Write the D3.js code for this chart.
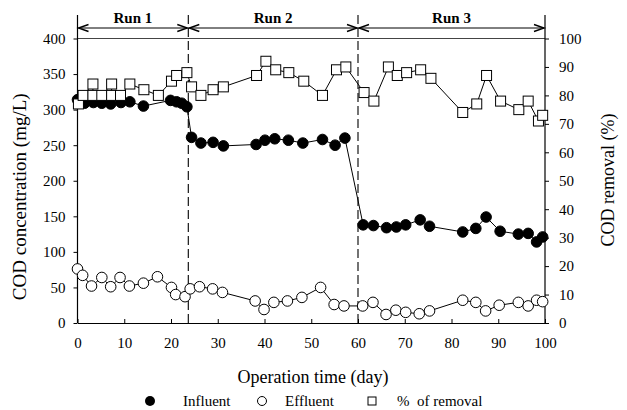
<!DOCTYPE html>
<html>
<head>
<meta charset="utf-8">
<script src="https://cdn.jsdelivr.net/npm/d3@7.9.0/dist/d3.min.js"></script>
<style>
  body { margin: 0; background: #fff; }
  svg { display: block; }
  svg text { font-family: "Liberation Serif", "DejaVu Serif", serif; }
</style>
</head>
<body>
<svg id="chart" width="627" height="410"></svg>
<script>
// influent COD (mg/L)
const influentDay = [0, 1.5, 3.4, 5.2, 7.1, 9.3, 11.2, 14.1, 19.9, 21.2, 22.3, 23.4,
  24.4, 26.4, 29, 31.2, 38.2, 40.1, 42.2, 45.1, 48.2, 52.4, 55.1, 57.2,
  61.1, 63.3, 66.1, 68.2, 70.2, 73.3, 75.3, 82.4, 85.2, 87.4, 90.4, 94.3, 96.4, 98.2, 99.5];
const influentCod = [314, 309, 310, 309, 308, 310, 311, 305, 313, 311, 309, 304,
  261, 253, 254, 249, 251, 257, 259, 257, 253, 258, 250, 260,
  138, 137, 134, 135, 138, 145, 136, 128, 133, 149, 129, 125, 126, 114, 121];

// effluent COD (mg/L)
const effluentDay = [0, 1.1, 3, 5.2, 7.1, 9.1, 11.1, 14.1, 17.1, 20.1, 21, 23,
  24.1, 26.1, 28.9, 31, 38, 39.9, 42, 44.9, 48, 52, 54.9, 57,
  61, 63.2, 66, 68.1, 70.2, 73.1, 75.3, 82.4, 85.2, 87.3, 90.2, 94.3, 96.4, 98.2, 99.5];
const effluentCod = [76, 67, 52, 64, 51, 64, 52, 56, 65, 50, 40, 37,
  48, 51, 48, 43, 31, 19, 29, 31, 36, 50, 26, 24,
  24, 29, 12, 18, 15, 13, 17, 32, 29, 17, 25, 29, 24, 32, 30];

// COD removal (%)
const removalDay = [0.2, 1.2, 3.3, 3.3, 5.2, 7.3, 7.3, 9.2, 11.2, 14.2, 17.3, 20.1, 21.2, 23.4,
  24.4, 26.4, 29, 31.2, 38.3, 40.3, 42.4, 45.2, 48.4, 52.4, 55.4, 57.4,
  61.3, 63.4, 66.5, 68.4, 70.4, 73.4, 75.6, 82.4, 85.4, 87.5, 90.5, 94.4, 96.4, 98.6, 99.5];
const removalPct = [77, 80, 84, 80, 80, 84, 80, 80, 84, 82, 80, 85, 87, 88,
  83, 80, 82, 83, 87, 92, 89, 88, 85, 80, 89, 90,
  81, 78, 90, 87, 88, 89, 86, 74, 77, 87, 78, 75, 78, 71, 73];

const runNames = ["Run 1", "Run 2", "Run 3"];
const runBounds = [0, 23.7, 60, 100];

const xTicks = [0, 10, 20, 30, 40, 50, 60, 70, 80, 90, 100];
const codTicks = [0, 50, 100, 150, 200, 250, 300, 350, 400];
const pctTicks = [0, 10, 20, 30, 40, 50, 60, 70, 80, 90, 100];

const svg = d3.select("#chart");

const x = d3.scaleLinear().domain([0, 100]).range([77.5, 545]);
const yCod = d3.scaleLinear().domain([0, 400]).range([323, 38.5]);
const yPct = d3.scaleLinear().domain([0, 100]).range([323, 38.5]);

// d3 axes put sans-serif on the group, drop it so the serif face is used
function tidyAxis(g) {
  g.attr("font-family", null).attr("font-size", null);
  g.selectAll("text").attr("font-size", 15).attr("fill", "#000");
}

// axes
svg.append("g")
  .attr("transform", `translate(0,${yCod(0)})`)
  .call(d3.axisBottom(x).tickValues(xTicks).tickSizeInner(-4).tickSizeOuter(0).tickPadding(14))
  .call(tidyAxis);

svg.append("g")
  .attr("transform", `translate(${x(0)},0)`)
  .call(d3.axisLeft(yCod).tickValues(codTicks).tickSizeInner(4).tickSizeOuter(0).tickPadding(8))
  .call(g => g.select(".domain").remove())
  .call(tidyAxis);

svg.append("g")
  .attr("transform", `translate(${x(100)},0)`)
  .call(d3.axisRight(yPct).tickValues(pctTicks).tickSizeInner(4).tickSizeOuter(0).tickPadding(10))
  .call(g => g.select(".domain").remove())
  .call(tidyAxis);

// frame top line and tall verticals
svg.append("line")
  .attr("x1", x(0)).attr("x2", x(100))
  .attr("y1", yCod(400)).attr("y2", yCod(400))
  .attr("stroke", "#444").attr("stroke-width", 1);

[0, 100].forEach(d => {
  svg.append("line")
    .attr("x1", x(d)).attr("x2", x(d))
    .attr("y1", 15).attr("y2", yCod(0))
    .attr("stroke", "#000").attr("stroke-width", 1.2);
});

// run separators
[runBounds[1], runBounds[2]].forEach(d => {
  svg.append("line")
    .attr("x1", x(d)).attr("x2", x(d))
    .attr("y1", 15).attr("y2", yCod(0))
    .attr("stroke", "#000").attr("stroke-width", 1.1)
    .attr("stroke-dasharray", "9,4");
});

// run arrows + labels
const arrowY = 28;
runNames.forEach((name, i) => {
  const x1 = x(runBounds[i]) + 1, x2 = x(runBounds[i + 1]) - 1;
  svg.append("line")
    .attr("x1", x1).attr("x2", x2).attr("y1", arrowY).attr("y2", arrowY)
    .attr("stroke", "#000").attr("stroke-width", 1);
  svg.append("path")
    .attr("d", `M${x1 + 10},${arrowY - 3.5}L${x1},${arrowY}L${x1 + 10},${arrowY + 3.5}` +
               `M${x2 - 10},${arrowY - 3.5}L${x2},${arrowY}L${x2 - 10},${arrowY + 3.5}`)
    .attr("fill", "none").attr("stroke", "#000").attr("stroke-width", 1.4);
  svg.append("text")
    .attr("x", (x1 + x2) / 2).attr("y", 23)
    .attr("text-anchor", "middle")
    .attr("font-size", 15).attr("font-weight", "bold")
    .text(name);
});

// series
function drawSeries(days, vals, yScale, shape) {
  const pts = days.map((d, i) => [x(d), yScale(vals[i])]);
  svg.append("path")
    .attr("d", d3.line()(pts))
    .attr("fill", "none").attr("stroke", "#000").attr("stroke-width", 1);
  const g = svg.append("g");
  if (shape === "square") {
    g.selectAll("rect").data(pts).join("rect")
      .attr("x", p => p[0] - 5).attr("y", p => p[1] - 5)
      .attr("width", 10).attr("height", 10)
      .attr("fill", "#fff").attr("stroke", "#000").attr("stroke-width", 1);
  } else {
    g.selectAll("circle").data(pts).join("circle")
      .attr("cx", p => p[0]).attr("cy", p => p[1]).attr("r", 5.3)
      .attr("fill", shape === "filled" ? "#000" : "#fff")
      .attr("stroke", "#000").attr("stroke-width", 1);
  }
}

drawSeries(influentDay, influentCod, yCod, "filled");
drawSeries(effluentDay, effluentCod, yCod, "open");
drawSeries(removalDay, removalPct, yPct, "square");

// axis titles
svg.append("text")
  .attr("transform", `translate(26,${(yCod(0) + yCod(400)) / 2 + 16}) rotate(-90)`)
  .attr("text-anchor", "middle").attr("font-size", 19)
  .text("COD concentration (mg/L)");

svg.append("text")
  .attr("transform", `translate(614,180) rotate(-90)`)
  .attr("text-anchor", "middle").attr("font-size", 18)
  .text("COD removal (%)");

svg.append("text")
  .attr("x", 313).attr("y", 383)
  .attr("text-anchor", "middle").attr("font-size", 18)
  .text("Operation time (day)");

// legend
const legY = 401;
svg.append("circle").attr("cx", 150).attr("cy", legY).attr("r", 5).attr("fill", "#000");
svg.append("text").attr("x", 183).attr("y", legY + 5).attr("font-size", 15).text("Influent");
svg.append("circle").attr("cx", 262).attr("cy", legY).attr("r", 4.5)
  .attr("fill", "#fff").attr("stroke", "#000");
svg.append("text").attr("x", 285).attr("y", legY + 5).attr("font-size", 15).text("Effluent");
svg.append("rect").attr("x", 368).attr("y", legY - 4).attr("width", 8).attr("height", 8)
  .attr("fill", "#fff").attr("stroke", "#000");
svg.append("text").attr("x", 397).attr("y", legY + 5).attr("font-size", 15)
  .attr("xml:space", "preserve").style("white-space", "pre")
  .text("%  of removal");
</script>
</body>
</html>
